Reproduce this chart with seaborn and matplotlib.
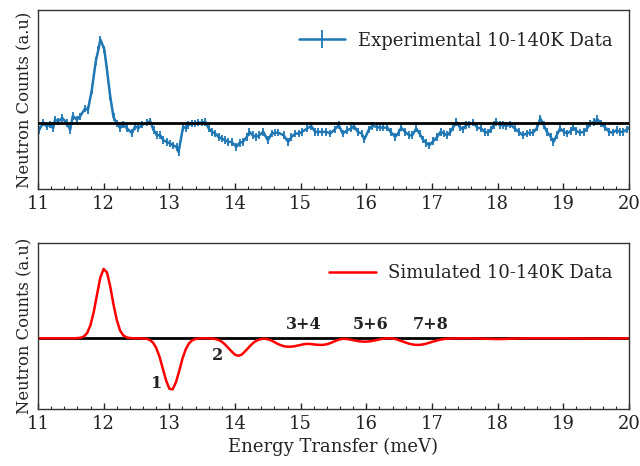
import numpy as np
import pandas as pd
import matplotlib
matplotlib.use("Agg")
import matplotlib.pyplot as plt
import seaborn as sns
from matplotlib.ticker import MultipleLocator

# ---------------- data ----------------
exp_energy = [11.02, 11.08, 11.13, 11.18, 11.23, 11.26, 11.31, 11.37, 11.44, 11.49,
              11.53, 11.59, 11.64, 11.72, 11.76, 11.82, 11.88, 11.92, 11.95, 12.01,
              12.05, 12.10, 12.15, 12.20, 12.25, 12.30, 12.35, 12.43, 12.48, 12.53,
              12.59, 12.66, 12.71, 12.76, 12.81, 12.86, 12.91, 12.96, 13.01, 13.06,
              13.11, 13.14, 13.21, 13.26, 13.29, 13.34, 13.39, 13.44, 13.50, 13.55,
              13.60, 13.65, 13.70, 13.75, 13.80, 13.85, 13.90, 13.95, 14.02, 14.07,
              14.12, 14.18, 14.22, 14.27, 14.32, 14.37, 14.43, 14.50, 14.56, 14.61,
              14.66, 14.74, 14.81, 14.86, 14.92, 14.97, 15.02, 15.10, 15.16, 15.22,
              15.27, 15.32, 15.39, 15.45, 15.52, 15.58, 15.64, 15.71, 15.77, 15.81,
              15.87, 15.93, 15.97, 16.04, 16.09, 16.16, 16.21, 16.26, 16.32, 16.37,
              16.44, 16.49, 16.53, 16.59, 16.65, 16.70, 16.76, 16.81, 16.86, 16.91,
              16.96, 17.02, 17.08, 17.13, 17.18, 17.23, 17.28, 17.32, 17.37, 17.42,
              17.47, 17.52, 17.57, 17.63, 17.69, 17.75, 17.80, 17.85, 17.90, 17.94,
              17.98, 18.03, 18.08, 18.13, 18.19, 18.26, 18.32, 18.38, 18.44, 18.49,
              18.54, 18.60, 18.65, 18.70, 18.75, 18.81, 18.85, 18.90, 18.95, 19.01,
              19.06, 19.11, 19.15, 19.20, 19.25, 19.31, 19.36, 19.41, 19.47, 19.52,
              19.57, 19.64, 19.70, 19.75, 19.81, 19.86, 19.91, 19.97, 20.02]
exp_counts = [-0.075, 0.01, -0.035, -0.015, -0.055, 0.045, 0.025, 0.065, 0.005, -0.075,
              0.09, 0.045, 0.085, 0.18, 0.16, 0.40, 0.74, 0.88, 1.0, 0.88,
              0.64, 0.32, 0.075, 0.0, -0.055, -0.015, -0.055, -0.115, -0.035, -0.055,
              -0.015, 0.01, 0.025, -0.08, -0.14, -0.14, -0.20, -0.22, -0.24, -0.26,
              -0.28, -0.34, -0.04, -0.06, -0.02, 0.0, 0.0, 0.01, 0.01, 0.02,
              -0.06, -0.10, -0.12, -0.16, -0.18, -0.20, -0.22, -0.22, -0.28, -0.23,
              -0.22, -0.16, -0.10, -0.14, -0.16, -0.14, -0.10, -0.20, -0.12, -0.11,
              -0.11, -0.14, -0.22, -0.16, -0.12, -0.12, -0.10, -0.06, -0.03, -0.10,
              -0.10, -0.10, -0.10, -0.12, -0.07, -0.02, -0.12, -0.08, -0.06, -0.03,
              -0.10, -0.12, -0.19, -0.07, -0.03, -0.04, -0.05, -0.05, -0.05, -0.10,
              -0.16, -0.11, -0.05, -0.10, -0.14, -0.14, -0.06, -0.12, -0.19, -0.23,
              -0.26, -0.21, -0.16, -0.10, -0.12, -0.14, -0.10, -0.05, 0.02, -0.04,
              -0.07, -0.02, -0.01, 0.01, -0.05, -0.06, -0.10, -0.11, -0.07, -0.02,
              0.02, -0.02, -0.02, -0.03, -0.01, -0.06, -0.10, -0.14, -0.12, -0.11,
              -0.11, -0.05, 0.06, -0.02, -0.10, -0.16, -0.22, -0.14, -0.06, -0.10,
              -0.12, -0.09, -0.05, -0.09, -0.11, -0.10, -0.06, 0.0, 0.02, 0.05,
              0.0, -0.05, -0.10, -0.11, -0.08, -0.10, -0.10, -0.07, -0.04]
exp_err = 0.045

sim_energy = [11.0, 11.5, 11.55, 11.6, 11.65, 11.7, 11.75, 11.8, 11.85, 11.9, 11.95,
              12.0, 12.05, 12.1, 12.15, 12.2, 12.25, 12.3, 12.35, 12.4, 12.45,
              12.5, 12.55, 12.6, 12.65, 12.7, 12.75, 12.8, 12.85, 12.9, 12.95,
              13.0, 13.05, 13.1, 13.15, 13.2, 13.25, 13.3, 13.35, 13.4, 13.45,
              13.5, 13.55, 13.6, 13.65, 13.7, 13.75, 13.8, 13.85, 13.9, 13.95,
              14.0, 14.05, 14.1, 14.15, 14.2, 14.25, 14.3, 14.35, 14.4, 14.45,
              14.5, 14.55, 14.6, 14.65, 14.7, 14.75, 14.8, 14.85, 14.9, 14.95,
              15.0, 15.05, 15.1, 15.15, 15.2, 15.25, 15.3, 15.35, 15.4, 15.45,
              15.5, 15.55, 15.6, 15.65, 15.7, 15.75, 15.8, 15.85, 15.9, 15.95,
              16.0, 16.05, 16.1, 16.15, 16.2, 16.25, 16.3, 16.35, 16.4, 16.45,
              16.5, 16.55, 16.6, 16.65, 16.7, 16.75, 16.8, 16.85, 16.9, 16.95,
              17.0, 17.05, 17.1, 17.15, 17.2, 17.25, 17.3, 17.4, 17.5, 17.7,
              17.9, 18.0, 18.1, 18.3, 18.5, 19.0, 19.3, 19.5, 19.7, 20.0]
sim_counts = [0.0, 0.0, 0.0, 0.002, 0.008, 0.026, 0.077, 0.19, 0.38, 0.63, 0.87,
              0.99, 0.94, 0.74, 0.48, 0.26, 0.11, 0.04, 0.012, 0.003, 0.0,
              0.0, 0.0, -0.005, -0.007, -0.023, -0.06, -0.137, -0.262, -0.43, -0.60,
              -0.72, -0.73, -0.63, -0.47, -0.29, -0.157, -0.072, -0.028, -0.01, -0.003,
              0.0, 0.0, -0.003, -0.004, -0.011, -0.025, -0.05, -0.09, -0.14, -0.19,
              -0.235, -0.25, -0.235, -0.19, -0.14, -0.09, -0.05, -0.025, -0.011, -0.006,
              -0.015, -0.03, -0.055, -0.08, -0.10, -0.115, -0.12, -0.12, -0.115, -0.105,
              -0.095, -0.085, -0.08, -0.082, -0.088, -0.093, -0.095, -0.093, -0.085, -0.07,
              -0.05, -0.03, -0.015, -0.008, -0.01, -0.018, -0.028, -0.037, -0.044, -0.048,
              -0.048, -0.044, -0.036, -0.026, -0.015, -0.007, -0.002, 0.0, -0.003, -0.012,
              -0.028, -0.045, -0.062, -0.077, -0.088, -0.094, -0.095, -0.09, -0.08, -0.067,
              -0.052, -0.038, -0.026, -0.016, -0.009, -0.005, -0.003, -0.001, 0.0, -0.003,
              -0.01, -0.012, -0.01, -0.003, 0.0, 0.0, -0.003, -0.005, -0.003, 0.0]

peak_labels = ["1", "2", "3+4", "5+6", "7+8"]
peak_label_x = [12.81, 13.74, 15.04, 16.06, 16.98]
peak_label_y = [-0.64, -0.25, 0.19, 0.19, 0.19]

x_ticks = [11, 12, 13, 14, 15, 16, 17, 18, 19, 20]

sim_df = pd.DataFrame({"energy": sim_energy, "counts": sim_counts})

# ---------------- style ----------------
sns.set_theme(style="ticks")
plt.rcParams["font.family"] = ["DejaVu Serif"]
plt.rcParams["axes.linewidth"] = 1.0

fig = plt.figure(figsize=(6.4, 4.66), dpi=100)
W, H = 640.0, 466.0
ax1 = fig.add_axes([38 / W, (H - 189) / H, 591 / W, 179 / H])
ax2 = fig.add_axes([38 / W, (H - 409) / H, 591 / W, 166 / H])

blue = "#1f77b4"

# top panel: experimental data
ax1.errorbar(exp_energy, exp_counts, yerr=exp_err, color=blue, lw=1.8,
             elinewidth=1.3, capsize=0, label="Experimental 10-140K Data", zorder=2)
ax1.axhline(0, color="black", lw=2, zorder=3)
ax1.set_ylim(-0.78, 1.35)

# bottom panel: simulated data
ax2.axhline(0, color="black", lw=2, zorder=1)
sns.lineplot(data=sim_df, x="energy", y="counts", ax=ax2, color="red", lw=1.8,
             label="Simulated 10-140K Data", zorder=2)
ax2.set_ylim(-1.01, 1.36)
for t, xx, yy in zip(peak_labels, peak_label_x, peak_label_y):
    ax2.text(xx, yy, t, fontsize=11.5, fontweight="bold", ha="center", va="center",
             color="#222222")

for ax in (ax1, ax2):
    ax.set_xlim(11, 20)
    ax.set_xticks(x_ticks)
    ax.xaxis.set_minor_locator(MultipleLocator(0.2))
    ax.set_yticks([])
    ax.tick_params(axis="x", which="major", direction="in", length=4, width=1,
                   labelsize=13, pad=4, colors="#222222")
    ax.tick_params(axis="x", which="minor", direction="in", length=2.5, width=0.8)
    ax.set_ylabel("Neutron Counts (a.u)", fontsize=11.8, labelpad=3, color="#222222")
    ax.set_xlabel("")
    for s in ax.spines.values():
        s.set_visible(True)
        s.set_color("#333333")
    leg = ax.legend(loc="upper right", frameon=False, fontsize=13,
                    handlelength=2.6, handletextpad=0.7, bbox_to_anchor=(1.0, 0.97))
    for txt in leg.get_texts():
        txt.set_color("#222222")

ax2.set_xlabel("Energy Transfer (meV)", fontsize=13, labelpad=4, color="#222222")

fig.savefig("out.png", dpi=100)
